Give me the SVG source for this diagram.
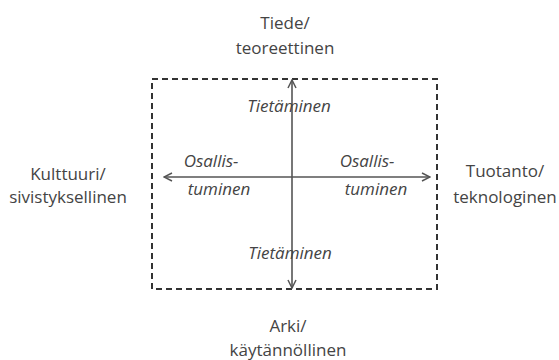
<svg xmlns="http://www.w3.org/2000/svg" width="559" height="360" viewBox="0 0 559 360">
<style>
.lbl{font-family:"Open Sans","Liberation Sans",sans-serif;font-size:17px;fill:#444;text-anchor:middle}
.it{font-family:"Open Sans","Liberation Sans",sans-serif;font-size:17px;font-style:italic;fill:#444;text-anchor:middle}
.ax{stroke:#555;stroke-width:1.6;fill:none}
</style>
<defs>
<marker id="arr" viewBox="0 0 10 10" refX="9" refY="5" markerWidth="10" markerHeight="10" markerUnits="userSpaceOnUse" orient="auto-start-reverse">
<path d="M1,1 L9,5 L1,9" fill="none" stroke="#555" stroke-width="1.5"/>
</marker>
</defs>
<rect x="0" y="0" width="559" height="360" fill="#fff"/>
<g id="frame">
<rect x="152" y="79" width="285" height="210" fill="none" stroke="#333" stroke-width="2" stroke-dasharray="6,4"/>
</g>
<g id="connectors">
<line class="ax" x1="292" y1="80" x2="292" y2="288" marker-start="url(#arr)" marker-end="url(#arr)"/>
<line class="ax" x1="164" y1="177" x2="430" y2="177" marker-start="url(#arr)" marker-end="url(#arr)"/>
</g>
<g id="top"><text class="lbl" x="285" y="29">Tiede/</text><text class="lbl" x="285" y="54">teoreettinen</text></g>
<g id="bottom"><text class="lbl" x="288" y="332">Arki/</text><text class="lbl" x="288" y="356">käytännöllinen</text></g>
<g id="left"><text class="lbl" x="68" y="180">Kulttuuri/</text><text class="lbl" x="68" y="203">sivistyksellinen</text></g>
<g id="right"><text class="lbl" x="505" y="177">Tuotanto/</text><text class="lbl" x="505" y="203">teknologinen</text></g>
<g id="tiet-top"><text class="it" x="289" y="112">Tietäminen</text></g>
<g id="tiet-bottom"><text class="it" x="290" y="259">Tietäminen</text></g>
<g id="osal-left"><text class="it" x="211" y="167">Osallis-</text><text class="it" x="219" y="195">tuminen</text></g>
<g id="osal-right"><text class="it" x="367" y="167">Osallis-</text><text class="it" x="376" y="195">tuminen</text></g>
</svg>
